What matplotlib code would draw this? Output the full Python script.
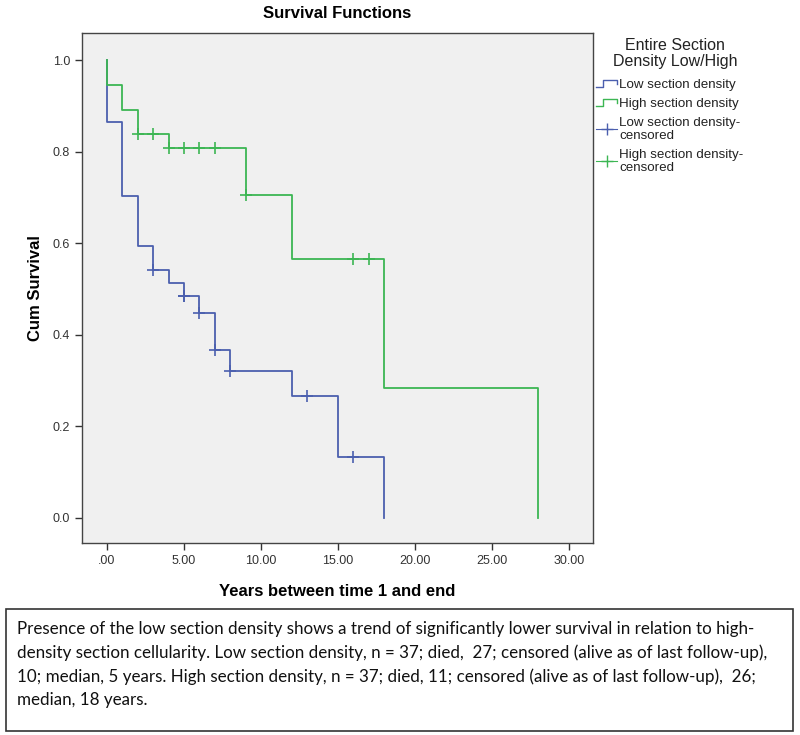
import numpy as np
import matplotlib
matplotlib.use("Agg")
import matplotlib.pyplot as plt
from matplotlib.lines import Line2D
from matplotlib.patches import Rectangle
from matplotlib.legend_handler import HandlerBase

plt.rcParams['font.family'] = ['Liberation Sans', 'DejaVu Sans']

# Kaplan-Meier steps: event time -> survival after it
low_t = [0, 1, 2, 3, 4, 5, 6, 7, 8, 12, 15, 18]
low_s = [0.865, 0.703, 0.595, 0.541, 0.514, 0.484, 0.447, 0.366, 0.320, 0.267, 0.134, 0.0]
high_t = [0, 1, 2, 4, 9, 12, 18, 28]
high_s = [0.946, 0.892, 0.838, 0.809, 0.706, 0.565, 0.283, 0.0]

# censored times
low_cens = [3, 5, 5, 6, 7, 8, 13, 16]
high_cens = [2, 3, 4, 5, 6, 7, 9, 16, 17]

x_ticks = [0, 5, 10, 15, 20, 25, 30]
x_labels = ['.00', '5.00', '10.00', '15.00', '20.00', '25.00', '30.00']
y_ticks = [0.0, 0.2, 0.4, 0.6, 0.8, 1.0]

caption = ("Presence of the low section density shows a trend of significantly lower survival in relation to high-\n"
           "density section cellularity. Low section density, n = 37; died,  27; censored (alive as of last follow-up),\n"
           "10; median, 5 years. High section density, n = 37; died, 11; censored (alive as of last follow-up),  26;\n"
           "median, 18 years.")

blue = '#4b5fae'
green = '#3cb653'


def level_at(times, surv, t):
    i = np.searchsorted(times, t, side='right') - 1
    return 1.0 if i < 0 else surv[i]


class StepHandler(HandlerBase):
    def create_artists(self, legend, orig_handle, xdescent, ydescent,
                       width, height, fontsize, trans):
        x0 = -xdescent
        y0 = -ydescent
        xs = [x0, x0 + 0.35 * width, x0 + 0.35 * width, x0 + width, x0 + width]
        ys = [y0 + 0.1 * height, y0 + 0.1 * height, y0 + 0.85 * height,
              y0 + 0.85 * height, y0 + 0.45 * height]
        ln = Line2D(xs, ys, color=orig_handle.get_color(), lw=1.0)
        ln.set_transform(trans)
        return [ln]


fig = plt.figure(figsize=(8, 7.35), dpi=100)
ax = fig.add_axes([0.1025, 0.261, 0.639, 0.694])
ax.set_facecolor('#f0f0f0')

ax.step([0] + low_t, [1.0] + low_s, where='post', color=blue, lw=1.3)
ax.step([0] + high_t, [1.0] + high_s, where='post', color=green, lw=1.3)

ax.plot(low_cens, [level_at(low_t, low_s, t) for t in low_cens], ls='none',
        marker='+', ms=8, mew=1.2, color=blue)
ax.plot(high_cens, [level_at(high_t, high_s, t) for t in high_cens], ls='none',
        marker='+', ms=8, mew=1.2, color=green)

ax.set_xlim(-1.62, 31.56)
ax.set_ylim(-0.055, 1.059)
ax.set_xticks(x_ticks)
ax.set_xticklabels(x_labels)
ax.set_yticks(y_ticks)
ax.set_yticklabels(['%.1f' % v for v in y_ticks])
ax.tick_params(colors='#333333', labelsize=9, length=5, width=1)
for sp in ax.spines.values():
    sp.set_color('#444444')
    sp.set_linewidth(1.0)

ax.set_title('Survival Functions', fontsize=12, fontweight='bold', pad=11)
ax.set_xlabel('Years between time 1 and end', fontsize=12, fontweight='bold', labelpad=12)
ax.set_ylabel('Cum Survival', fontsize=12, fontweight='bold', labelpad=7)

# legend: title as its own text, entries below
fig.text(0.844, 0.948, 'Entire Section\nDensity Low/High', ha='center', va='top',
         fontsize=11.5, color='#222222', linespacing=1.1)

h_low = Line2D([], [], color=blue)
h_high = Line2D([], [], color=green)
h_low_c = Line2D([], [], color=blue, lw=0.8, marker='+', ms=8, mew=1.0)
h_high_c = Line2D([], [], color=green, lw=0.8, marker='+', ms=8, mew=1.0)
leg = fig.legend([h_low, h_high, h_low_c, h_high_c],
                 ['Low section density', 'High section density',
                  'Low section density-\ncensored', 'High section density-\ncensored'],
                 handler_map={h_low: StepHandler(), h_high: StepHandler()},
                 loc='upper left', bbox_to_anchor=(0.745, 0.893), frameon=False,
                 fontsize=9.6, handlelength=1.6, handletextpad=0.15,
                 labelspacing=0.5, numpoints=1, borderaxespad=0, borderpad=0)
for t in leg.get_texts():
    t.set_linespacing(1.15)
    t.set_color('#222222')

# caption box under the chart
fig.patches.append(Rectangle((0.0075, 0.005), 0.984, 0.166, transform=fig.transFigure,
                             fill=False, edgecolor='#333333', lw=1.2))
cap = fig.text(0.021, 0.155, caption, ha='left', va='top', fontsize=12,
               family=['Lato', 'DejaVu Sans'], linespacing=1.55, color='#111111')

# shrink caption to fit the box width
fig.canvas.draw()
w = cap.get_window_extent().width
cap.set_fontsize(12 * 748.0 / w)

fig.savefig('out.png', dpi=100, facecolor='white')
